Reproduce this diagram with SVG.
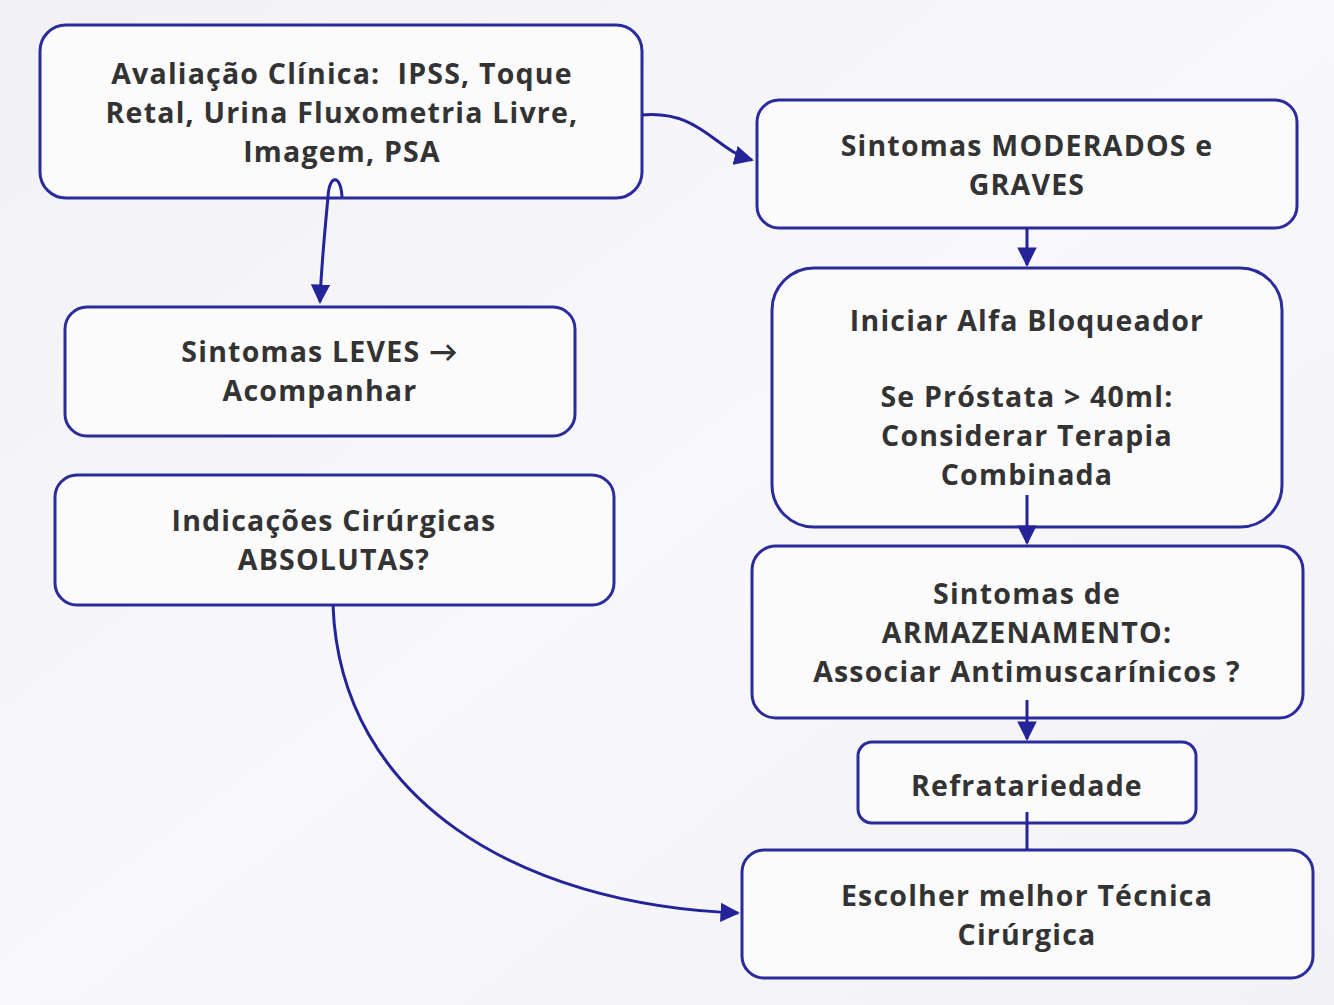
<svg xmlns="http://www.w3.org/2000/svg" width="1334" height="1005" viewBox="0 0 1334 1005">
<defs>
<linearGradient id="bg" x1="0" y1="0" x2="1" y2="1">
<stop offset="0" stop-color="#f1f1f3"/><stop offset="0.5" stop-color="#f8f8fa"/><stop offset="1" stop-color="#f2f2f4"/>
</linearGradient>
<marker id="ah" viewBox="0 0 10 10" refX="9" refY="5" markerWidth="6.5" markerHeight="6.5" markerUnits="strokeWidth" orient="auto">
<path d="M0,0 L10,5 L0,10 z" fill="#23239a"/>
</marker>
<style>
.box{fill:#fbfbfc;stroke:#2b2b9c;stroke-width:3}
.t{font-family:"Open Sans","Lato",sans-serif;font-weight:700;font-size:28.5px;letter-spacing:1.2px;fill:#333;text-anchor:middle;white-space:pre}
.c{fill:none;stroke:#23239a;stroke-width:3}
</style>
</defs>
<rect width="1334" height="1005" fill="url(#bg)"/>
<g id="n1"><rect class="box" x="40" y="25" width="602" height="173" rx="26"/>
<text class="t" x="342" y="84" xml:space="preserve">Avaliação Clínica:  IPSS, Toque</text>
<text class="t" x="342" y="123">Retal, Urina Fluxometria Livre,</text>
<text class="t" x="342" y="162">Imagem, PSA</text></g>
<g id="n2"><rect class="box" x="757" y="100" width="540" height="128" rx="22"/>
<text class="t" x="1027" y="156">Sintomas MODERADOS e</text>
<text class="t" x="1027" y="195">GRAVES</text></g>
<g id="n3"><rect class="box" x="65" y="307" width="510" height="129" rx="22"/>
<text class="t" x="320" y="362">Sintomas LEVES →</text>
<text class="t" x="320" y="401">Acompanhar</text></g>
<g id="n4"><rect class="box" x="55" y="475" width="559" height="130" rx="22"/>
<text class="t" x="334" y="531">Indicações Cirúrgicas</text>
<text class="t" x="334" y="570">ABSOLUTAS?</text></g>
<g id="n5"><rect class="box" x="772" y="268" width="510" height="259" rx="42"/>
<text class="t" x="1027" y="331">Iniciar Alfa Bloqueador</text>
<text class="t" x="1027" y="407">Se Próstata &gt; 40ml:</text>
<text class="t" x="1027" y="446">Considerar Terapia</text>
<text class="t" x="1027" y="485">Combinada</text></g>
<g id="n6"><rect class="box" x="752" y="546" width="551" height="172" rx="24"/>
<text class="t" x="1027" y="604">Sintomas de</text>
<text class="t" x="1027" y="643">ARMAZENAMENTO:</text>
<text class="t" x="1027" y="682">Associar Antimuscarínicos ?</text></g>
<g id="n7"><rect class="box" x="858" y="742" width="338" height="81" rx="14"/>
<text class="t" x="1027" y="796">Refratariedade</text></g>
<g id="n8"><rect class="box" x="742" y="850" width="571" height="128" rx="22"/>
<text class="t" x="1027" y="906">Escolher melhor Técnica</text>
<text class="t" x="1027" y="945">Cirúrgica</text></g>
<g id="connectors">
<path class="c" d="M642,115 C700,110 715,150 752,160" marker-end="url(#ah)"/>
<path class="c" d="M342,197 C341,174 329,174 328,197 C324,240 321,270 320,302" marker-end="url(#ah)"/>
<path class="c" d="M1027,228 L1027,265" marker-end="url(#ah)"/>
<path class="c" d="M1027,495 L1027,543" marker-end="url(#ah)"/>
<path class="c" d="M1027,700 L1027,739" marker-end="url(#ah)"/>
<path class="c" d="M1027,812 L1027,850"/>
<path class="c" d="M333,605 C340,800 520,905 738,913" marker-end="url(#ah)"/>
</g>
</svg>
